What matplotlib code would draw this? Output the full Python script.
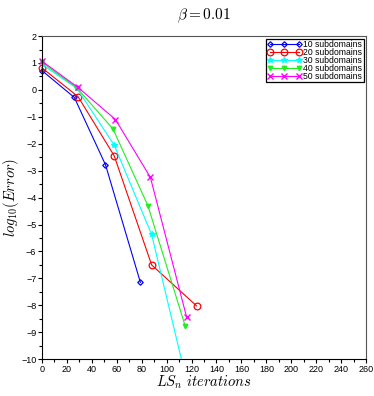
import matplotlib
matplotlib.use("Agg")
import matplotlib.pyplot as plt
from matplotlib.ticker import MultipleLocator

plt.rcParams["font.family"] = "Liberation Sans"
plt.rcParams["mathtext.fontset"] = "cm"

# iterations / log10(error) per number of subdomains
it_10 = [0, 26, 51, 79]
err_10 = [0.72, -0.28, -2.78, -7.15]

it_20 = [0, 29, 58, 88, 124]
err_20 = [0.82, -0.25, -2.45, -6.5, -8.02]

it_30 = [0, 28, 58, 88, 117]
err_30 = [0.95, 0.06, -2.05, -5.37, -11.0]

it_40 = [0, 28, 57, 85, 115]
err_40 = [1.02, 0.08, -1.45, -4.3, -8.78]

it_50 = [0, 29, 59, 87, 116]
err_50 = [1.07, 0.09, -1.1, -3.25, -8.43]

series = [
    (it_10, err_10, "10 subdomains", "blue", "D", dict(ms=2.8, mfc="none", mew=0.9)),
    (it_20, err_20, "20 subdomains", "red", "o", dict(ms=4.8, mfc="none", mew=0.9)),
    (it_30, err_30, "30 subdomains", "cyan", "*", dict(ms=4)),
    (it_40, err_40, "40 subdomains", "#22ee22", "v", dict(ms=3.2)),
    (it_50, err_50, "50 subdomains", "magenta", "x", dict(ms=4.8, mew=1.0)),
]

fig = plt.figure(figsize=(3.74, 3.96), dpi=100)
ax = fig.add_axes([0.112, 0.093, 0.867, 0.816])

for x, y, label, color, marker, kw in series:
    # the 30-subdomain curve runs below the axis floor, so keep it clipped
    ax.plot(x, y, color=color, marker=marker, lw=0.8, label=label,
            clip_on=(label == "30 subdomains"), **kw)

ax.set_xlim(0, 260)
ax.set_ylim(-10, 2)
ax.xaxis.set_major_locator(MultipleLocator(20))
ax.xaxis.set_minor_locator(MultipleLocator(10))
ax.yaxis.set_major_locator(MultipleLocator(1))
ax.yaxis.set_minor_locator(MultipleLocator(0.5))
ax.tick_params(which="both", direction="out", labelsize=6.5, pad=1, top=False, right=False)
ax.tick_params(which="major", length=3, width=0.8)
ax.tick_params(which="minor", length=2, width=0.8)

for side in ["top", "right"]:
    ax.spines[side].set_color("#555555")

ax.set_title(r"$\beta = 0.01$", fontsize=11, pad=12)
ax.set_xlabel(r"$LS_n\ iterations$", fontsize=10.5, labelpad=0)
ax.set_ylabel(r"$log_{10}(Error)$", fontsize=10.5, labelpad=0)

leg = ax.legend(loc="upper right", fontsize=6.2, numpoints=3, handlelength=4.0,
                fancybox=False, edgecolor="black", framealpha=1, borderpad=0.15,
                labelspacing=-0.12, handletextpad=0.2, borderaxespad=0.3)
leg.get_frame().set_linewidth(0.9)

fig.savefig("out.png", dpi=100)
